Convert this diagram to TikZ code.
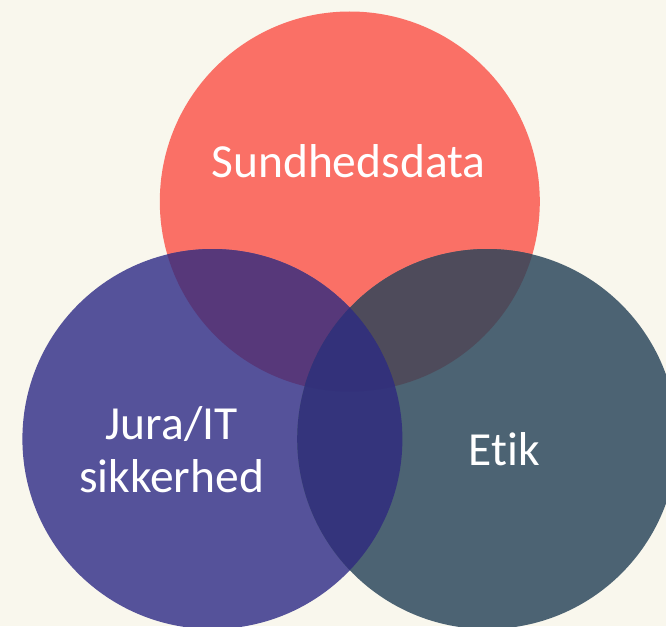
\documentclass[tikz,border=0pt]{standalone}
\usepackage{fontspec}
\setmainfont[Ligatures=NoCommon]{Carlito}
\definecolor{bg}{HTML}{F9F7ED}
\definecolor{cred}{HTML}{FA7066}
\definecolor{cpur}{HTML}{55529A}
\definecolor{cslt}{HTML}{4C6373}
\definecolor{crp}{HTML}{57387A}
\definecolor{crs}{HTML}{4E4B5B}
\definecolor{cps}{HTML}{34347C}
\definecolor{crps}{HTML}{33317A}
\tikzset{lbl/.style={text=white,font=\fontsize{47.5}{53}\selectfont,align=center,inner sep=0pt}}
\begin{document}
\begin{tikzpicture}[x=1pt,y=-1pt]
\fill[bg] (0,0) rectangle (666,626);
\useasboundingbox (0,0) rectangle (666,626);
\coordinate (R) at (349.8,201.5);
\coordinate (P) at (212.4,439);
\coordinate (S) at (487.2,439);
\fill[cred] (R) circle (190pt);
\fill[cpur] (P) circle (190pt);
\fill[cslt] (S) circle (190pt);
\begin{scope}\clip (R) circle (190pt); \fill[crp] (P) circle (190pt);\end{scope}
\begin{scope}\clip (R) circle (190pt); \fill[crs] (S) circle (190pt);\end{scope}
\begin{scope}\clip (P) circle (190pt); \fill[cps] (S) circle (190pt);\end{scope}
\begin{scope}\clip (R) circle (190pt); \clip (P) circle (190pt); \fill[crps] (S) circle (190pt);\end{scope}
\node[lbl,anchor=base] (sund) at (348.5,177.6) {Sundhedsdata};
\node[lbl,anchor=base] (jura) at (171.5,492) {Jura/IT\\sikkerhed};
\node[lbl,anchor=base] (etik) at (504.5,465) {Etik};
\end{tikzpicture}
\end{document}
